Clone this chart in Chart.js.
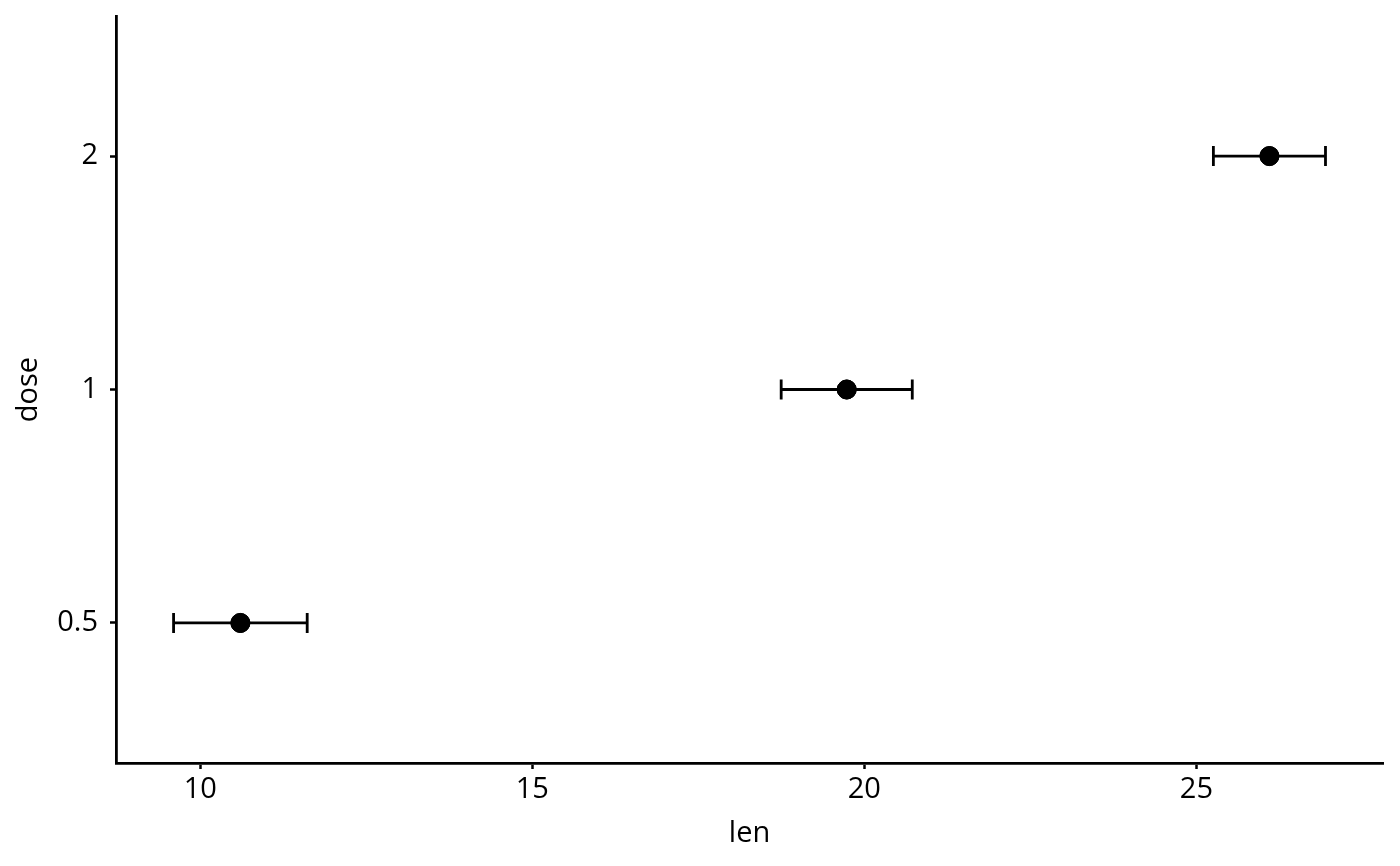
<!DOCTYPE html>
<html>
<head>
<meta charset="utf-8">
<script src="https://cdn.jsdelivr.net/npm/chart.js@4"></script>
<style>
  body { margin: 0; background: #fff; }
</style>
</head>
<body>
<canvas id="chart" width="1400" height="866"></canvas>
<script>
// ToothGrowth: mean len +/- standard error per dose
const doses = ['0.5', '1', '2'];
const lenMean = [10.605, 19.735, 26.1];
const lenSE = [1.006, 0.987, 0.844];
const xTicks = [10, 15, 20, 25];

const points = lenMean.map((m, i) => ({ x: m, y: i + 1 }));

const errorBars = {
    id: 'errorBars',
    afterDatasetsDraw(chart) {
        const ctx = chart.ctx;
        const xs = chart.scales.x, ys = chart.scales.y;
        ctx.save();
        ctx.strokeStyle = '#000';
        ctx.lineWidth = 2.8;
        lenMean.forEach((m, i) => {
            const y = ys.getPixelForValue(i + 1);
            const x0 = xs.getPixelForValue(m - lenSE[i]);
            const x1 = xs.getPixelForValue(m + lenSE[i]);
            ctx.beginPath();
            ctx.moveTo(x0, y); ctx.lineTo(x1, y);
            ctx.moveTo(x0, y - 10); ctx.lineTo(x0, y + 10);
            ctx.moveTo(x1, y - 10); ctx.lineTo(x1, y + 10);
            ctx.stroke();
        });
        ctx.restore();
        // redraw points on top of the bars
        chart.getDatasetMeta(0).controller.draw();
    }
};

Chart.defaults.font.family = '"Open Sans", "Noto Sans", sans-serif';
Chart.defaults.color = '#000';

new Chart(document.getElementById('chart'), {
    type: 'scatter',
    data: {
        datasets: [{
            data: points,
            backgroundColor: '#000',
            borderColor: '#000',
            pointRadius: 9.5,
            pointHoverRadius: 9.5
        }]
    },
    options: {
        responsive: false,
        animation: false,
        layout: { padding: { top: 16, right: 17, left: 0, bottom: 0 } },
        plugins: { legend: { display: false }, tooltip: { enabled: false } },
        scales: {
            x: {
                type: 'linear',
                min: 8.732,
                max: 27.81,
                afterBuildTicks: s => { s.ticks = xTicks.map(v => ({ value: v })); },
                afterFit: s => { s.height = 103; s.paddingLeft = 0; s.paddingRight = 0; },
                border: { display: true, color: '#000', width: 2.8 },
                grid: { drawOnChartArea: false, drawTicks: true, tickLength: 6, tickColor: '#000', tickWidth: 2.5 },
                ticks: { font: { size: 29 }, padding: 3, color: '#000' },
                title: { display: true, text: 'len', font: { size: 29 }, padding: { top: 0, bottom: 15 }, color: '#000' }
            },
            y: {
                type: 'linear',
                min: 0.4,
                max: 3.6,
                afterBuildTicks: s => { s.ticks = doses.map((d, i) => ({ value: i + 1 })); },
                afterFit: s => { s.width = 116; s.paddingTop = 0; s.paddingBottom = 0; },
                border: { display: true, color: '#000', width: 2.8 },
                grid: { drawOnChartArea: false, drawTicks: true, tickLength: 6, tickColor: '#000', tickWidth: 2.5 },
                ticks: {
                    font: { size: 29 },
                    padding: 12,
                    color: '#000',
                    callback: v => doses[v - 1]
                },
                title: { display: true, text: 'dose', font: { size: 29 }, padding: { top: 11, bottom: 0 }, color: '#000' }
            }
        }
    },
    plugins: [errorBars]
});
</script>
</body>
</html>
